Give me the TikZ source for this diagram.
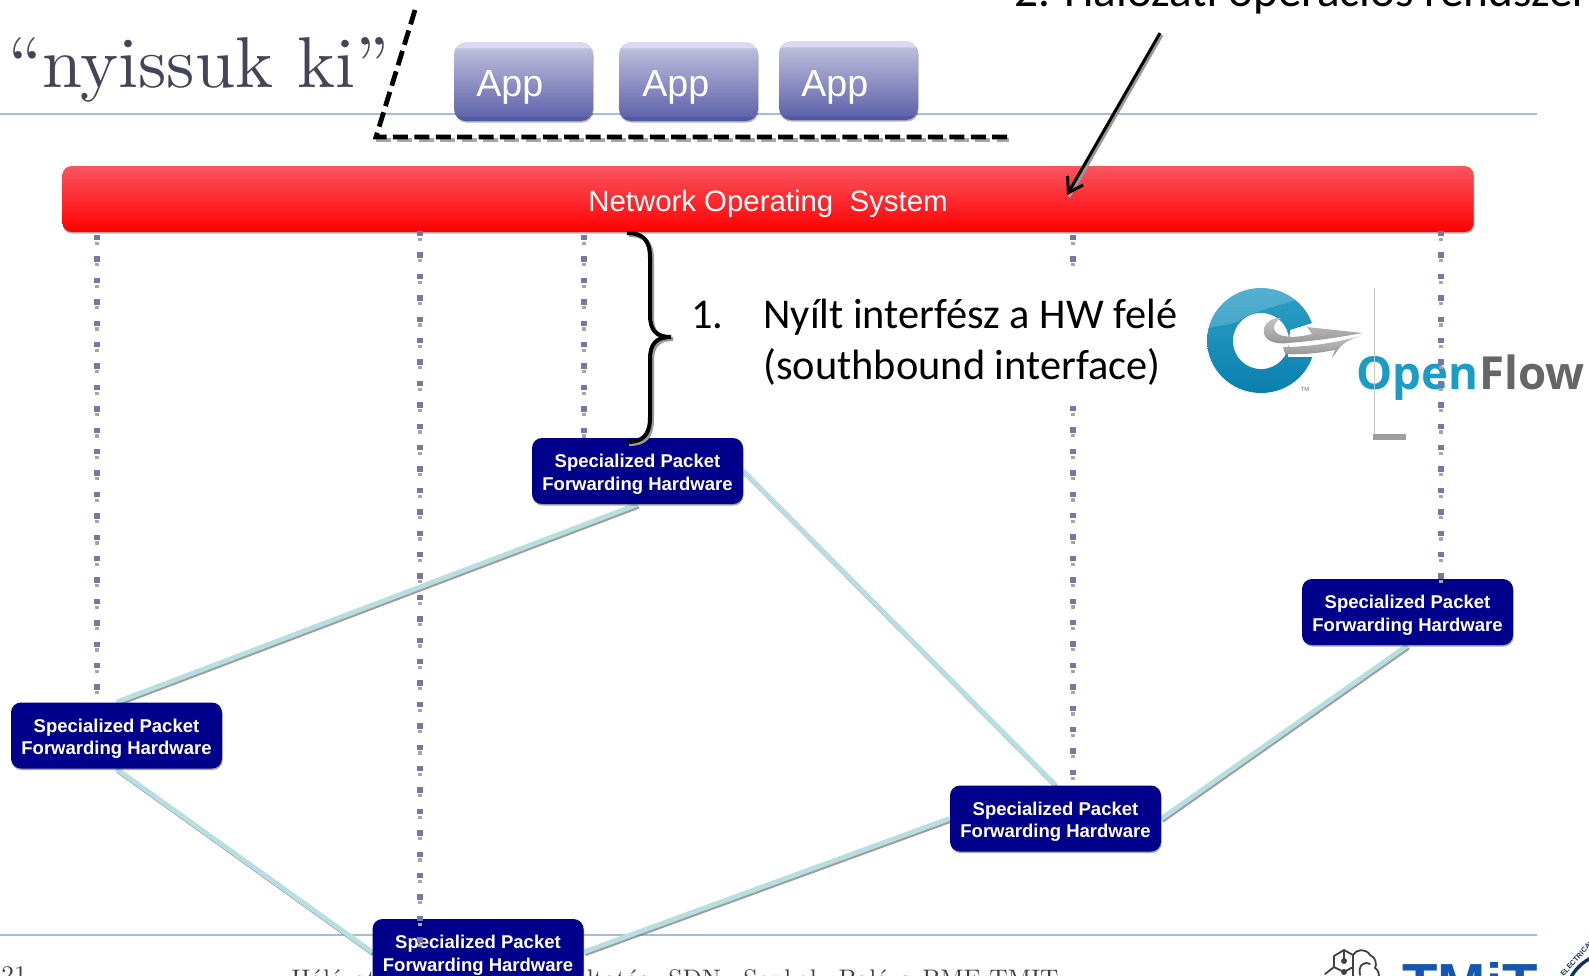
\documentclass[tikz,border=0pt]{standalone}
\usepackage{fontspec}
\newfontfamily\arialf{Liberation Sans}
\newfontfamily\calf{Carlito}
\newfontfamily\ofl{Open Sans}
\newfontface\lmten{lmroman10-regular.otf}
\usetikzlibrary{arrows.meta,shadows,calc}
\definecolor{rulec}{HTML}{A5BED6}
\definecolor{hwblue}{HTML}{00008B}
\definecolor{linkc}{HTML}{B7DEE0}
\definecolor{dotc}{HTML}{7478A8}
\definecolor{ofteal}{HTML}{1A9CC4}
\definecolor{ringa}{HTML}{2E9FC6}
\definecolor{ringb}{HTML}{1B90BC}
\definecolor{ringc}{HTML}{0A80B0}
\definecolor{tmitblue}{HTML}{1556B0}
\definecolor{sealblue}{HTML}{12305F}
\definecolor{titlec}{HTML}{45455A}
\definecolor{appa}{HTML}{5058A8}
\definecolor{appb}{HTML}{6064AC}
\definecolor{appc}{HTML}{BDBDDB}
\definecolor{appd}{HTML}{D9D9F1}
\pgfdeclareverticalshading{appshade}{100bp}{color(0bp)=(appa);color(25bp)=(appa);color(27.5bp)=(appa);color(28bp)=(appb);color(71bp)=(appc);color(71.5bp)=(appd);color(75bp)=(appd);color(100bp)=(appd)}
\definecolor{nosa}{HTML}{FF0000}
\definecolor{nosb}{HTML}{F95560}
\pgfdeclarelayer{linklayer}
\pgfsetlayers{linklayer,main}
\tikzset{
  x=0.5pt,y=-0.5pt,
  hwbox/.style={rectangle,rounded corners=5pt,fill=hwblue,text=white,minimum width=105.5pt,minimum height=33pt,inner sep=0pt,align=center,
    font=\arialf\bfseries\fontsize{9.25}{11.2}\selectfont,
    drop shadow={shadow xshift=0.3pt,shadow yshift=-0.8pt,opacity=.35,fill=black}},
  appbox/.style={rectangle,rounded corners=6pt,minimum width=69.5pt,minimum height=39.5pt,inner sep=0pt,shading=appshade,
    drop shadow={shadow xshift=0.3pt,shadow yshift=-0.8pt,opacity=.3,fill=black}},
  apptxt/.style={inner sep=0pt,anchor=base west,text=white,font=\arialf\fontsize{18.8}{22}\selectfont},
  nosbox/.style={rectangle,rounded corners=4.5pt,minimum width=705.5pt,minimum height=33pt,inner sep=0pt,top color=nosb,bottom color=nosa,
    text=white,font=\arialf\fontsize{14.7}{18}\selectfont,
    drop shadow={shadow xshift=0.3pt,shadow yshift=-0.8pt,opacity=.3,fill=black}},
  linkline/.style={linkc,line width=2.4pt},
  linkshadow/.style={black!55,line width=1.8pt,opacity=.7,transform canvas={xshift=0.6pt,yshift=-1.2pt}},
  dotline/.style={dotc,line width=2.7pt,dash pattern=on 2.7pt off 8pt},
  dotshadow/.style={black!35,line width=1.6pt,dash pattern=on 1.6pt off 9.1pt,dash phase=-1pt,transform canvas={yshift=-2.4pt}},
  bodytxt/.style={inner sep=0pt,anchor=base west,font=\calf\fontsize{21.2}{24}\selectfont},
  foot/.style={inner sep=0pt,anchor=base west,text=black!75,font=\lmten\fontsize{12.7}{14}\selectfont},
  blackline/.style={black,line width=1.5pt},
  shadowline/.style={black!40,line width=1.5pt,transform canvas={xshift=1pt,yshift=-1pt}},
  ofltxt/.style={inner sep=0pt,anchor=base west,font=\ofl\bfseries\fontsize{22.8}{26}\selectfont},
  iconline/.style={black!75,line width=0.9pt,line join=round,line cap=round},
}
\newcommand{\hwtext}{\rule{0pt}{10pt}Specialized Packet\\Forwarding Hardware}
\begin{document}
\begin{tikzpicture}
\useasboundingbox (0,0) rectangle (1589,975);
% slide rules
\begin{pgfonlayer}{linklayer}
\coordinate (r1a) at (0,114); \coordinate (r1b) at (1537,114);
\coordinate (r2a) at (0,935); \coordinate (r2b) at (1537,935);
\draw[rulec,line width=1pt] (r1a) -- (r1b);
\draw[rulec,line width=1pt] (r2a) -- (r2b);
\end{pgfonlayer}
% title and footer
\node[inner sep=0pt,anchor=base west,text=titlec,font=\lmten\fontsize{36}{42}\selectfont] (title) at (8,87) {“nyissuk ki”};
\node[foot] (fnum) at (1,983) {21};
\node[foot] (fa) at (291,987) {Hálózati};
\node[foot] (fb) at (520,987) {szolgáltatás};
\node[foot] (fc) at (668,987) {SDN};
\node[foot] (fd) at (743,987) {Sonkoly Balázs};
\node[foot] (fe) at (922,987) {BME-TMIT};
% footer logos
\node[inner sep=0pt,anchor=base west,text=tmitblue,font=\arialf\bfseries\fontsize{29}{32}\selectfont] (tmit) at (1402,1004) {TMiT};
\draw[iconline] (1344,950) -- (1334,956) -- (1334,967) -- (1344,972) -- (1353,967);
\draw[iconline] (1344,950) -- (1353,955) -- (1353,980);
\draw[iconline] (1344,950) -- (1344,961);
\draw[iconline] (1334,967) -- (1325,974);
\fill[black!75] (1344,961) circle[radius=3];
\fill[black!75] (1344,972) circle[radius=3];
\draw[iconline] (1353,955) .. controls (1356,949) and (1366,948) .. (1370,955) .. controls (1376,957) and (1377,965) .. (1375,968) .. controls (1379,970) and (1379,975) .. (1379,980);
\draw[iconline] (1360,975) .. controls (1358,965) and (1364,961) .. (1370,964);
\draw[sealblue,line width=1.7pt] (1612,1000) circle[radius=47];
\node[text=sealblue,inner sep=0pt,rotate=48,font=\arialf\bfseries\fontsize{3.6}{4}\selectfont] (seal) at (1577,958) {ELECTRICAL};
% OpenFlow logo
\begin{scope}
  \clip (1195,280) -- (1330,280) -- (1320,320.5) -- (1290,330) -- (1288,357) -- (1320,357) -- (1320,400) -- (1195,400) -- cycle;
  \shade[top color=ringa,middle color=ringb,bottom color=ringc]
    (1261,340.5) ellipse[x radius=54,y radius=52.5];
  \begin{scope}
    \clip (1261,340.5) ellipse[x radius=54,y radius=52.5];
    \fill[white,opacity=.18] (1205,329) .. controls (1215,326) and (1228,325) .. (1237,322) .. controls (1250,312) and (1270,308) .. (1296,300) -- (1296,285) -- (1205,285) -- cycle;
  \end{scope}
  \fill[white] (1261,341) circle[radius=28];
\end{scope}
\shade[top color=black!22,bottom color=black!42]
  (1307,327) -- (1363,333) .. controls (1345,336) and (1325,340) .. (1288,343)
  .. controls (1270,345) and (1262,338) .. (1264,328) .. controls (1266,321) and (1274,317) .. (1281,318)
  .. controls (1273,323) and (1271,331) .. (1280,335) .. controls (1290,338) and (1300,337) .. (1312,334) -- cycle;
\shade[top color=black!22,bottom color=black!45]
  (1363,335) .. controls (1350,339) and (1344,343) .. (1340,347) -- (1332,358) -- (1335,350)
  .. controls (1320,353) and (1300,355) .. (1285,354) -- (1283,347) .. controls (1310,347) and (1340,342) .. (1363,335) -- cycle;
\node[inner sep=0pt,text=black!55,font=\arialf\fontsize{3}{4}\selectfont] (tm) at (1305,389) {TM};
\node[ofltxt,text=ofteal] (open) at (1356,389) {Open};
\node[ofltxt,text=black!60,anchor=base west] (flow) at (open.base east) {Flow};
\coordinate (ofv) at (1374,288); \coordinate (ofw) at (1374,440);
\draw[black!22,line width=.5pt] (ofv) -- (ofw);
\fill[black!38] (1373,434) rectangle (1406,440);
% texts
\node[bodytxt,font=\calf\fontsize{23.6}{26}\selectfont] (two) at (1014,6) {2. Hálózati operációs rendszer};
\node[bodytxt] (one) at (691,328) {1.};
\node[bodytxt] (l1) at (763,328) {Nyílt interfész a HW felé};
\node[bodytxt] (l2) at (763,379) {(southbound interface)};
% boxes
\node[hwbox] (A) at (637.5,471) {\hwtext};
\node[hwbox] (B) at (1407.5,612) {\hwtext};
\node[hwbox] (C) at (116.5,735.5) {\hwtext};
\node[hwbox] (D) at (1055.5,818.5) {\hwtext};
\node[hwbox] (E) at (478,952) {\hwtext};
\begin{pgfonlayer}{linklayer}
\foreach \a/\b in {A.south/C.north,A.east/D.north,B.south/D.east,C.south/E.west,E.east/D.west}{
  \draw[linkshadow] (\a) -- (\b);
  \draw[linkline] (\a) -- (\b);
}
\end{pgfonlayer}
% apps
\node[appbox] (a1) at (523.5,81.5) {};
\node[appbox] (a2) at (688.5,81.5) {};
\node[appbox] (a3) at (848.5,80.5) {};
\node[apptxt] (a1t) at (476,96) {App};
\node[apptxt] (a2t) at (642,96) {App};
\node[apptxt] (a3t) at (801,96) {App};
% dashed L
\coordinate (la) at (415,10); \coordinate (lb) at (376,137); \coordinate (lc) at (1009,137);
\draw[black!35,line width=2pt,dash pattern=on 7.5pt off 3.2pt,transform canvas={yshift=-1.6pt}] (lb) -- (lc);
\draw[black,line width=2.4pt,dash pattern=on 7.5pt off 3.2pt,line join=miter] (la) -- (lb) -- (lc);
% NOS
\node[nosbox] (nos) at (768,199) {\rule{0pt}{15.5pt}Network Operating\ \ System};
% arrow to NOS
\coordinate (arra) at (1160,33); \coordinate (arrb) at (1067,195);
\draw[shadowline] (arra) -- (arrb);
\draw[blackline,-{Straight Barb[length=7pt,width=9pt,line width=1.5pt]}] (arra) -- (arrb);
% dotted
\coordinate (t1) at (97,235); \coordinate (t2) at (420,231); \coordinate (t3) at (584,235); \coordinate (t4) at (1073,235); \coordinate (t5) at (1441,231);
\coordinate (t2e) at (420,948); \coordinate (t4b) at (1073,266); \coordinate (t4c) at (1073,406);
\foreach \p/\q in {t1/{t1 |- C.north},t2/t2e,t3/{t3 |- A.north},t4/t4b,t4c/{t4c |- D.north},t5/{t5 |- B.north}}{
  \draw[dotshadow] (\p) -- (\q);
  \draw[dotline] (\p) -- (\q);
}
% brace
\coordinate (ba) at (627,233); \coordinate (bt) at (671,337); \coordinate (bb) at (627,442);
\def\bracepath{(ba) .. controls (643,233) and (650,240) .. (650,258) -- (650,315) .. controls (650,330) and (656,337) .. (bt) .. controls (656,337) and (650,344) .. (650,359) -- (650,417) .. controls (650,435) and (643,442) .. (bb)}
\draw[shadowline,line width=2pt] \bracepath;
\draw[blackline,line width=2pt] \bracepath;
\end{tikzpicture}
\end{document}
